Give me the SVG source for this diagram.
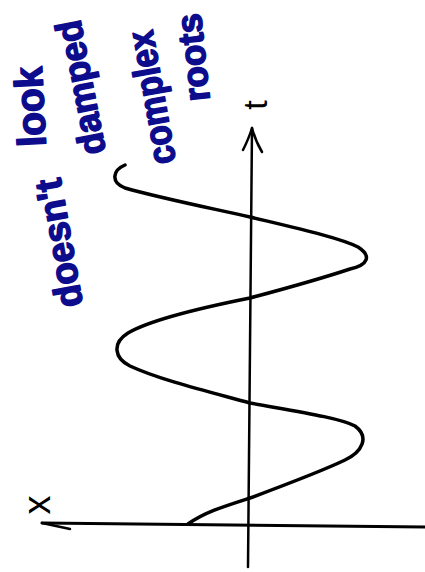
<svg xmlns="http://www.w3.org/2000/svg" width="425" height="572" viewBox="0 0 425 572">
<style>
.note{font-family:"Liberation Sans",Arial,sans-serif;font-weight:bold;fill:#0c0c8c;stroke:#0c0c8c;stroke-width:1.5;stroke-linejoin:round;}
.lbl{font-family:"Liberation Sans",Arial,sans-serif;fill:#000;}
.ink{fill:none;stroke:#000;stroke-linecap:round;stroke-linejoin:round;}
</style>
<rect width="425" height="572" fill="#fff"/>
<g id="notes">
<text id="t-doesnt" class="note" font-size="38" transform="translate(83,305) rotate(-100)" textLength="130" lengthAdjust="spacingAndGlyphs">doesn't</text>
<text id="t-look" class="note" font-size="40" transform="translate(46,146) rotate(-93)" textLength="80" lengthAdjust="spacingAndGlyphs">look</text>
<text id="t-damped" class="note" font-size="37" transform="translate(106,152) rotate(-101)" textLength="136" lengthAdjust="spacingAndGlyphs">damped</text>
<text id="t-complex" class="note" font-size="38" transform="translate(176,162) rotate(-100)" textLength="135" lengthAdjust="spacingAndGlyphs">complex</text>
<text id="t-roots" class="note" font-size="36" transform="translate(210,100) rotate(-96)" textLength="88" lengthAdjust="spacingAndGlyphs">roots</text>
</g>
<g id="axes">
<g id="v-axis">
<path class="ink" stroke-width="2.5" d="M252,128 L248,567"/>
<path class="ink" stroke-width="2.5" d="M243,150 Q249,138 252,128 Q255,140 262,152"/>
<text class="lbl" font-size="34" transform="translate(267,105) rotate(-90)" text-anchor="middle">t</text>
</g>
<g id="h-axis">
<path class="ink" stroke-width="3" d="M42,523 L425,527"/>
<path class="ink" stroke-width="2.5" d="M42,523 L70,529"/>
<text class="lbl" font-size="38" transform="translate(50,505) rotate(-90)" text-anchor="middle">x</text>
</g>
</g>
<g id="curve">
<path class="ink" stroke-width="3.5" d="M125,165 C113,170 110,182 125,188 C160,198 210,208 250,217 C300,229 340,238 358,247 C372,256 368,265 350,269 C320,279 280,290 250,298 C200,308 150,320 128,333 C112,343 114,358 130,366 C160,380 210,392 250,403 C300,412 340,418 355,426 C370,437 362,452 345,460 C320,472 285,485 250,498 C225,506 205,512 188,524"/>
</g>
</svg>
